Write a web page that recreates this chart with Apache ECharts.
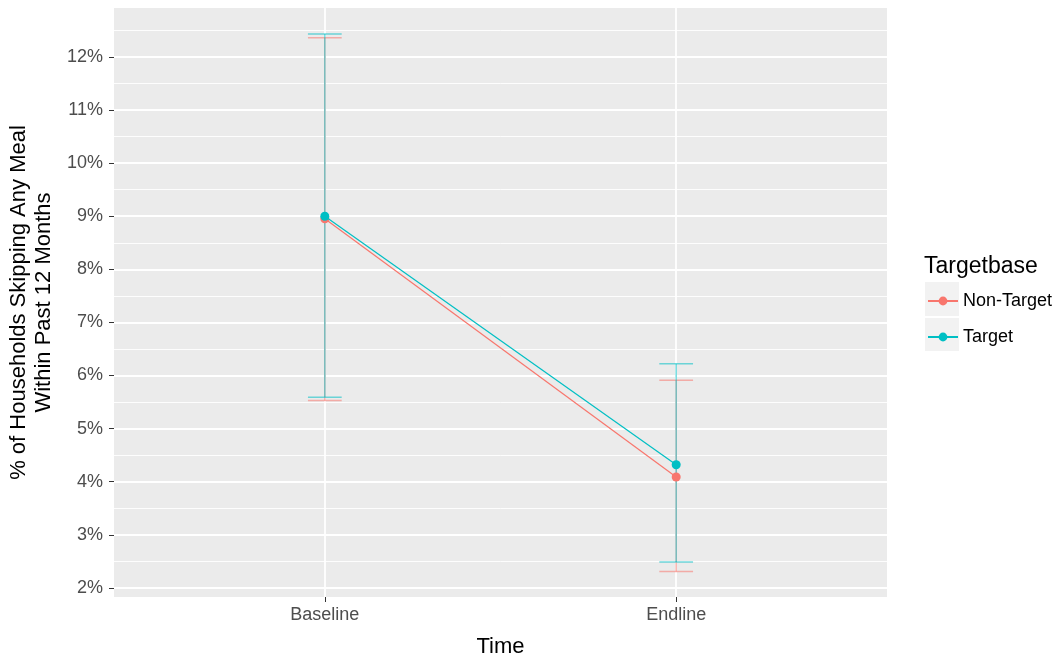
<!DOCTYPE html>
<html>
<head>
<meta charset="utf-8">
<script src="https://cdn.jsdelivr.net/npm/echarts@6/dist/echarts.min.js"></script>
<style>
  html, body { margin: 0; padding: 0; background: #fff; }
  #chart { width: 1064px; height: 661px; }
</style>
</head>
<body>
<div id="chart"></div>
<script>
// categories on the x axis
const times = ['Baseline', 'Endline'];
// % of households
const nonTargetMean = [8.95, 4.09];
const nonTargetLow = [5.53, 2.31];
const nonTargetHigh = [12.36, 5.91];
const targetMean = [9.0, 4.32];
const targetLow = [5.59, 2.49];
const targetHigh = [12.43, 6.22];
// tick labels
const yTicks = [2, 3, 4, 5, 6, 7, 8, 9, 10, 11, 12];
const yMinor = [2.5, 3.5, 4.5, 5.5, 6.5, 7.5, 8.5, 9.5, 10.5, 11.5, 12.5];
const xTicks = [1, 2];

const colNT = '#F8766D';
const colT = '#00BFC4';
const font = '"Liberation Sans", Arial, sans-serif';

function toPoints(vals) {
  return vals.map((v, i) => [i + 1, v]);
}
function toBars(lo, hi) {
  return lo.map((v, i) => [i + 1, v, hi[i]]);
}

function errorBar(color) {
  return function (params, api) {
    const x = api.value(0);
    const lo = api.coord([x, api.value(1)]);
    const hi = api.coord([x, api.value(2)]);
    const left = api.coord([x - 0.048, api.value(1)])[0];
    const right = api.coord([x + 0.048, api.value(1)])[0];
    const style = { stroke: color, lineWidth: 1.5, opacity: 0.55 };
    return {
      type: 'group',
      children: [
        { type: 'line', shape: { x1: lo[0], y1: lo[1], x2: hi[0], y2: hi[1] }, style: style },
        { type: 'line', shape: { x1: left, y1: lo[1], x2: right, y2: lo[1] }, style: style },
        { type: 'line', shape: { x1: left, y1: hi[1], x2: right, y2: hi[1] }, style: style }
      ]
    };
  };
}

const chart = echarts.init(document.getElementById('chart'));

const option = {
  animation: false,
  textStyle: { fontFamily: font },
  grid: {
    left: 114, top: 8, right: 177, bottom: 64,
    containLabel: false,
    outerBoundsMode: 'none',
    show: true, backgroundColor: '#EBEBEB', borderWidth: 0
  },
  graphic: [
    { type: 'rect', z: -1, shape: { x: 925, y: 282, width: 34, height: 34 }, style: { fill: '#F2F2F2' } },
    { type: 'rect', z: -1, shape: { x: 925, y: 318, width: 34, height: 33 }, style: { fill: '#F2F2F2' } },
    { type: 'text', left: 924, top: 255, style: { text: 'Targetbase', font: '23px ' + font, fill: '#000' } }
  ],
  legend: {
    data: ['Non-Target', 'Target'],
    orient: 'vertical',
    left: 927, top: 292, padding: 0,
    itemWidth: 30, itemHeight: 11, itemGap: 18,
    textStyle: { fontSize: 18, lineHeight: 16, color: '#000', fontFamily: font }
  },
  xAxis: {
    type: 'value',
    min: 0.4, max: 2.6,
    name: 'Time',
    nameLocation: 'middle',
    nameGap: 39,
    nameTextStyle: { fontSize: 22, color: '#000' },
    axisLine: { show: false },
    splitLine: { show: false },
    axisTick: { show: true, length: 5, customValues: xTicks, lineStyle: { color: '#333' } },
    axisLabel: {
      customValues: xTicks, margin: 9, fontSize: 18, color: '#4D4D4D',
      formatter: v => times[Math.round(v) - 1] || ''
    }
  },
  yAxis: {
    type: 'value',
    min: 1.83, max: 12.92,
    name: '% of Households Skipping Any Meal\nWithin Past 12 Months',
    nameLocation: 'middle',
    nameRotate: 90,
    nameGap: 52,
    nameTextStyle: { fontSize: 22, color: '#000', lineHeight: 25 },
    axisLine: { show: false },
    splitLine: { show: false },
    axisTick: { show: true, length: 5, customValues: yTicks, lineStyle: { color: '#333' } },
    axisLabel: {
      customValues: yTicks, margin: 11, fontSize: 18, color: '#4D4D4D',
      formatter: v => Math.round(v) + '%'
    }
  },
  series: [
    {
      name: 'Non-Target',
      type: 'line',
      z: 5,
      data: toPoints(nonTargetMean),
      symbol: 'circle',
      symbolSize: 9,
      lineStyle: { color: colNT, width: 1.2 },
      itemStyle: { color: colNT }
    },
    {
      name: 'Target',
      type: 'line',
      z: 6,
      data: toPoints(targetMean),
      symbol: 'circle',
      symbolSize: 9,
      lineStyle: { color: colT, width: 1.2 },
      itemStyle: { color: colT }
    },
    {
      name: 'grid',
      type: 'line',
      data: [],
      z: 1,
      silent: true,
      markLine: {
        z: 1,
        silent: true,
        symbol: 'none',
        label: { show: false },
        animation: false,
        data: [
          ...yMinor.map(v => ({ yAxis: v, lineStyle: { color: '#fff', width: 0.9, type: 'solid' } })),
          ...yTicks.map(v => ({ yAxis: v, lineStyle: { color: '#fff', width: 1.8, type: 'solid' } })),
          ...xTicks.map(v => ({ xAxis: v, lineStyle: { color: '#fff', width: 1.8, type: 'solid' } }))
        ]
      }
    },
    {
      name: 'Non-Target',
      type: 'custom',
      z: 3,
      renderItem: errorBar(colNT),
      data: toBars(nonTargetLow, nonTargetHigh),
      itemStyle: { color: colNT }
    },
    {
      name: 'Target',
      type: 'custom',
      z: 4,
      renderItem: errorBar(colT),
      data: toBars(targetLow, targetHigh),
      itemStyle: { color: colT }
    }
  ]
};

chart.setOption(option);
</script>
</body>
</html>
